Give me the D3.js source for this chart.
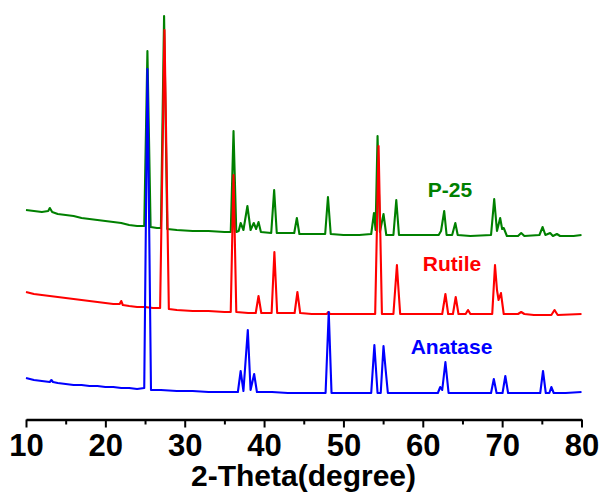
<!DOCTYPE html>
<html>
<head>
<meta charset="utf-8">
<script src="https://cdn.jsdelivr.net/npm/d3@7"></script>
<style>
body { margin: 0; background: #fff; }
text { font-family: "Liberation Sans", Arial, sans-serif; font-weight: bold; }
</style>
</head>
<body>
<div id="chart-area"></div>
<script>
/*
*    XRD patterns: P-25, Rutile, Anatase
*/

// [2-theta, intensity (a.u., stacked)]
var p25 = [
    [10,209],[11,208],[12,207],[12.8,208],[13,211],[13.3,207],[14,205],[15,204],[16,203],[17,201],
    [18,200],[19,199],[20,198],[21,197],[22,196],[23,194],[24,193],[24.9,193],[25.3,368],[25.7,192],
    [26.5,191],[27.0,191],[27.4,403],[27.8,190],[29,189],[31,188],[33,188],[35,187],[35.8,187],[36.15,288],
    [36.5,187],[36.8,188],[37.05,196],[37.4,189],[37.9,213],[38.3,189],[38.7,196],[39.0,190],[39.3,197],[39.6,187],
    [40.9,186],[41.27,229],[41.6,186],[43.8,186],[44.13,201],[44.45,185],[46,185],[47.7,185],[48.05,222],[48.4,185],
    [50,184],[52,184],[53.5,185],[53.85,206],[54.05,189],[54.3,283],[54.6,187],[55.05,205],[55.4,184],[56.3,184],
    [56.66,219],[57.0,184],[59,184],[61,184],[62.0,184],[62.3,188],[62.7,208],[63.0,184],[63.7,184],[64.1,196],
    [64.4,184],[66,183],[68.6,184],[69.0,220],[69.35,188],[69.75,201],[70.0,190],[70.2,191],[70.6,183],[72.0,183],
    [72.4,186],[72.8,183],[74.7,184],[75.1,192],[75.45,184],[76.05,186],[76.4,183],[76.9,185],[77.3,183],[79,183],
    [80,184]
];

var rutile = [
    [10,127],[11,125],[12,124],[13,123],[14,122],[15,121],[16,120],[17,119],[18,118],[19,117],
    [20,116],[21,115],[21.8,115],[22.0,118],[22.2,114],[23,113],[24,112],[25,112],[26,111],[26.9,111],
    [27.45,389],[28.0,110],[29,109],[31,108],[33,108],[35,107],[35.8,107],[36.15,244],[36.5,107],[38,106],
    [38.95,106],[39.3,123],[39.65,106],[40.95,106],[41.3,167],[41.65,106],[43.85,106],[44.2,127],[44.55,106],[46,105],
    [47.9,105],[48.1,107],[48.3,105],[50,105],[52,105],[54.0,105],[54.43,273],[54.85,105],[56.3,105],[56.74,154],
    [56.9,134],[57.15,105],[60,105],[62.45,105],[62.85,125],[63.2,105],[63.8,105],[64.15,122],[64.5,105],[65.4,105],
    [65.7,109],[66.0,105],[68.75,105],[69.1,154],[69.35,129],[69.55,119],[69.85,126],[70.2,105],[72.0,105],[72.4,107],
    [72.8,105],[74,104],[76.2,104],[76.6,109],[77.0,104],[80,105]
];

var anatase = [
    [10,41],[11,39],[12,38],[13,37],[13.2,39],[13.4,37],[14,36],[15,35],[16,34],[17,34],
    [18,33],[19,33],[20,32],[21,32],[22,31],[23,31],[24,30],[24.9,31],[25.3,350],[25.75,29],
    [27,29],[29,28],[31,28],[33,27],[35,27],[36.7,27],[37.05,48],[37.4,28],[37.95,89],[38.3,29],
    [38.75,45],[39.1,27],[41,27],[43,26],[45,26],[47.75,26],[48.15,107],[48.5,26],[51,26],[53.5,26],
    [53.9,74],[54.3,26],[54.7,26],[55.05,73],[55.3,51],[55.6,26],[58,26],[60,26],[61.9,26],[62.2,32],
    [62.45,29],[62.85,57],[63.25,26],[66,26],[68.6,26],[68.95,40],[69.3,26],[70.05,26],[70.4,43],[70.75,26],
    [72,26],[74.8,26],[75.15,48],[75.5,26],[75.95,26],[76.2,32],[76.5,26],[78,26],[80,27]
];

var seriesNames = ["P-25", "Rutile", "Anatase"];
var seriesColors = ["#008000", "#ff0000", "#0000ff"];
var labelPos = [[450, 197], [452, 271], [451.5, 354]];

var majorTicks = [10, 20, 30, 40, 50, 60, 70, 80];
var minorTicks = [15, 25, 35, 45, 55, 65, 75];

var svg = d3.select("#chart-area")
    .append("svg")
    .attr("width", 603)
    .attr("height", 494);

var x = d3.scaleLinear().domain([10, 80]).range([26, 581.5]);
var y = d3.scaleLinear().domain([0, 419]).range([419, 0]);

var line = d3.line()
    .x((d) => x(d[0]))
    .y((d) => y(d[1]));

var all = [p25, rutile, anatase];
all.forEach((data, i) => {
    svg.append("path")
        .datum(data)
        .attr("d", line)
        .attr("fill", "none")
        .attr("stroke", seriesColors[i])
        .attr("stroke-width", 2.1)
        .attr("stroke-linejoin", "round");
});

svg.selectAll(".name").data(seriesNames)
    .enter()
    .append("text")
        .attr("class", "name")
        .attr("x", (d, i) => labelPos[i][0])
        .attr("y", (d, i) => labelPos[i][1])
        .attr("text-anchor", "middle")
        .attr("font-size", "21px")
        .attr("fill", (d, i) => seriesColors[i])
        .text((d) => d);

// axes
var minorAxis = svg.append("g")
    .attr("transform", "translate(0,419.5)")
    .call(d3.axisBottom(x).tickValues(minorTicks).tickSize(5).tickFormat(""));
minorAxis.select(".domain").remove();
minorAxis.selectAll("line").attr("stroke", "#000").attr("stroke-width", 2);

var xAxis = svg.append("g")
    .attr("transform", "translate(0,419.5)")
    .call(d3.axisBottom(x).tickValues(majorTicks).tickSize(8).tickSizeOuter(0).tickPadding(6));
xAxis.select(".domain").attr("stroke", "#000").attr("stroke-width", 2.5);
xAxis.selectAll("line").attr("stroke", "#000").attr("stroke-width", 2);
xAxis.selectAll("text")
    .attr("font-family", "'Liberation Sans', Arial, sans-serif")
    .attr("font-weight", "bold")
    .attr("font-size", "31px")
    .attr("fill", "#000");

svg.append("text")
    .attr("x", 303.5)
    .attr("y", 486)
    .attr("text-anchor", "middle")
    .attr("font-size", "30px")
    .attr("fill", "#000")
    .text("2-Theta(degree)");
</script>
</body>
</html>
